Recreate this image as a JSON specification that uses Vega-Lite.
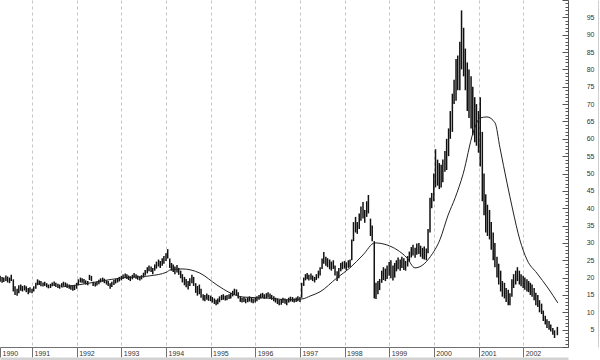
{
  "$schema": "https://vega.github.io/schema/vega-lite/v6.json",
  "width": 568,
  "height": 347,
  "autosize": "none",
  "padding": {"left": 0, "top": 0, "right": 32, "bottom": 13},
  "background": "white",
  "view": {"stroke": null},
  "config": {"font": "Liberation Sans"},
  "datasets": {
    "bars": [
      {"t":"1990-04-15","h":20.5,"l":18.8},{"t":"1990-05-01","h":20.2,"l":18.5},{"t":"1990-05-15","h":20.0,"l":18.7},{"t":"1990-06-01","h":20.6,"l":19.0},{"t":"1990-06-15","h":20.3,"l":18.6},{"t":"1990-07-01","h":20.0,"l":18.4},{"t":"1990-07-15","h":20.8,"l":19.0},{"t":"1990-08-01","h":19.5,"l":16.0},{"t":"1990-08-15","h":17.5,"l":15.0},{"t":"1990-09-01","h":16.8,"l":14.8},{"t":"1990-09-15","h":17.8,"l":15.5},{"t":"1990-10-01","h":18.0,"l":16.2},{"t":"1990-10-15","h":17.6,"l":16.0},{"t":"1990-11-01","h":17.8,"l":16.3},{"t":"1990-11-15","h":17.5,"l":15.8},{"t":"1990-12-01","h":17.0,"l":15.2},{"t":"1990-12-15","h":17.2,"l":15.6},
      {"t":"1991-01-01","h":16.8,"l":15.5},{"t":"1991-01-15","h":17.5,"l":16.0},{"t":"1991-02-01","h":18.5,"l":16.8},{"t":"1991-02-15","h":19.5,"l":17.8},{"t":"1991-03-01","h":19.2,"l":17.9},{"t":"1991-03-15","h":19.0,"l":17.5},{"t":"1991-04-01","h":18.6,"l":17.4},{"t":"1991-04-15","h":18.8,"l":17.6},{"t":"1991-05-01","h":18.4,"l":17.2},{"t":"1991-05-15","h":18.0,"l":16.9},{"t":"1991-06-01","h":18.2,"l":17.0},{"t":"1991-06-15","h":18.6,"l":17.5},{"t":"1991-07-01","h":18.9,"l":17.6},{"t":"1991-07-15","h":18.5,"l":17.3},{"t":"1991-08-01","h":18.2,"l":17.0},{"t":"1991-08-15","h":18.0,"l":16.8},{"t":"1991-09-01","h":18.4,"l":17.2},{"t":"1991-09-15","h":18.8,"l":17.6},{"t":"1991-10-01","h":18.6,"l":17.5},{"t":"1991-10-15","h":18.3,"l":17.0},{"t":"1991-11-01","h":18.0,"l":16.8},{"t":"1991-11-15","h":17.8,"l":16.5},{"t":"1991-12-01","h":17.6,"l":16.2},{"t":"1991-12-15","h":17.9,"l":16.4},
      {"t":"1992-01-01","h":18.5,"l":16.8},{"t":"1992-01-15","h":19.5,"l":17.8},{"t":"1992-02-01","h":20.0,"l":18.6},{"t":"1992-02-15","h":19.8,"l":18.5},{"t":"1992-03-01","h":19.6,"l":18.3},{"t":"1992-03-15","h":19.2,"l":18.0},{"t":"1992-04-01","h":19.0,"l":17.8},{"t":"1992-04-15","h":20.8,"l":19.3},{"t":"1992-05-01","h":20.5,"l":19.0},{"t":"1992-05-15","h":18.8,"l":17.6},{"t":"1992-06-01","h":18.6,"l":17.4},{"t":"1992-06-15","h":18.9,"l":17.7},{"t":"1992-07-01","h":19.4,"l":18.1},{"t":"1992-07-15","h":19.8,"l":18.6},{"t":"1992-08-01","h":20.0,"l":18.8},{"t":"1992-08-15","h":19.7,"l":18.4},{"t":"1992-09-01","h":19.2,"l":18.0},{"t":"1992-09-15","h":19.0,"l":17.6},{"t":"1992-10-01","h":18.4,"l":16.8},{"t":"1992-10-15","h":18.8,"l":17.3},{"t":"1992-11-01","h":19.3,"l":17.9},{"t":"1992-11-15","h":19.6,"l":18.3},{"t":"1992-12-01","h":19.9,"l":18.6},{"t":"1992-12-15","h":20.2,"l":18.9},
      {"t":"1993-01-01","h":20.5,"l":19.2},{"t":"1993-01-15","h":20.9,"l":19.6},{"t":"1993-02-01","h":21.2,"l":19.9},{"t":"1993-02-15","h":21.0,"l":19.6},{"t":"1993-03-01","h":20.6,"l":19.3},{"t":"1993-03-15","h":20.4,"l":19.0},{"t":"1993-04-01","h":20.8,"l":19.5},{"t":"1993-04-15","h":21.3,"l":20.0},{"t":"1993-05-01","h":21.0,"l":19.7},{"t":"1993-05-15","h":20.6,"l":19.4},{"t":"1993-06-01","h":20.3,"l":19.2},{"t":"1993-06-15","h":20.7,"l":19.5},{"t":"1993-07-01","h":21.4,"l":20.0},{"t":"1993-07-15","h":22.2,"l":20.6},{"t":"1993-08-01","h":23.0,"l":21.2},{"t":"1993-08-15","h":23.5,"l":21.8},{"t":"1993-09-01","h":23.2,"l":21.6},{"t":"1993-09-15","h":22.8,"l":21.0},{"t":"1993-10-01","h":23.8,"l":22.0},{"t":"1993-10-15","h":24.6,"l":22.6},{"t":"1993-11-01","h":25.2,"l":23.2},{"t":"1993-11-15","h":24.8,"l":22.8},{"t":"1993-12-01","h":25.6,"l":23.4},{"t":"1993-12-15","h":26.2,"l":24.0},
      {"t":"1994-01-01","h":27.0,"l":24.8},{"t":"1994-01-15","h":28.2,"l":25.5},{"t":"1994-02-01","h":25.5,"l":22.8},{"t":"1994-02-15","h":24.2,"l":22.0},{"t":"1994-03-01","h":23.8,"l":21.6},{"t":"1994-03-15","h":23.2,"l":21.0},{"t":"1994-04-01","h":23.6,"l":21.5},{"t":"1994-04-15","h":22.8,"l":20.8},{"t":"1994-05-01","h":22.0,"l":19.8},{"t":"1994-05-15","h":21.0,"l":18.6},{"t":"1994-06-01","h":20.2,"l":17.8},{"t":"1994-06-15","h":19.6,"l":17.2},{"t":"1994-07-01","h":19.0,"l":16.6},{"t":"1994-07-15","h":19.8,"l":17.6},{"t":"1994-08-01","h":20.8,"l":18.4},{"t":"1994-08-15","h":20.2,"l":17.6},{"t":"1994-09-01","h":18.4,"l":15.6},{"t":"1994-09-15","h":17.6,"l":14.8},{"t":"1994-10-01","h":18.0,"l":15.2},{"t":"1994-10-15","h":16.8,"l":14.2},{"t":"1994-11-01","h":15.2,"l":13.4},{"t":"1994-11-15","h":15.0,"l":13.2},{"t":"1994-12-01","h":15.4,"l":13.6},{"t":"1994-12-15","h":15.0,"l":13.3},
      {"t":"1995-01-01","h":14.8,"l":13.2},{"t":"1995-01-15","h":14.4,"l":12.8},{"t":"1995-02-01","h":14.0,"l":12.4},{"t":"1995-02-15","h":13.6,"l":12.0},{"t":"1995-03-01","h":14.0,"l":12.3},{"t":"1995-03-15","h":14.6,"l":12.9},{"t":"1995-04-01","h":15.0,"l":13.5},{"t":"1995-04-15","h":15.2,"l":13.6},{"t":"1995-05-01","h":14.8,"l":13.4},{"t":"1995-05-15","h":15.0,"l":13.5},{"t":"1995-06-01","h":15.2,"l":13.8},{"t":"1995-06-15","h":15.6,"l":14.0},{"t":"1995-07-01","h":16.2,"l":14.6},{"t":"1995-07-15","h":16.8,"l":15.0},{"t":"1995-08-01","h":16.6,"l":14.8},{"t":"1995-08-15","h":15.8,"l":14.0},{"t":"1995-09-01","h":14.6,"l":13.0},{"t":"1995-09-15","h":14.2,"l":12.8},{"t":"1995-10-01","h":14.4,"l":13.0},{"t":"1995-10-15","h":14.0,"l":12.6},{"t":"1995-11-01","h":14.3,"l":12.9},{"t":"1995-11-15","h":14.6,"l":13.1},{"t":"1995-12-01","h":14.2,"l":12.8},{"t":"1995-12-15","h":14.0,"l":12.6},
      {"t":"1996-01-01","h":14.2,"l":12.8},{"t":"1996-01-15","h":14.6,"l":13.2},{"t":"1996-02-01","h":15.0,"l":13.6},{"t":"1996-02-15","h":15.4,"l":14.0},{"t":"1996-03-01","h":15.6,"l":14.2},{"t":"1996-03-15","h":15.2,"l":13.9},{"t":"1996-04-01","h":15.5,"l":14.0},{"t":"1996-04-15","h":15.8,"l":14.3},{"t":"1996-05-01","h":15.4,"l":14.0},{"t":"1996-05-15","h":15.0,"l":13.6},{"t":"1996-06-01","h":14.6,"l":13.2},{"t":"1996-06-15","h":14.2,"l":12.8},{"t":"1996-07-01","h":14.0,"l":12.4},{"t":"1996-07-15","h":13.6,"l":12.0},{"t":"1996-08-01","h":13.8,"l":12.2},{"t":"1996-08-15","h":14.2,"l":12.7},{"t":"1996-09-01","h":14.0,"l":12.5},{"t":"1996-09-15","h":13.6,"l":12.0},{"t":"1996-10-01","h":14.2,"l":12.8},{"t":"1996-10-15","h":14.5,"l":13.1},{"t":"1996-11-01","h":14.4,"l":13.0},{"t":"1996-11-15","h":14.0,"l":12.8},{"t":"1996-12-01","h":14.3,"l":13.0},{"t":"1996-12-15","h":14.6,"l":13.2},
      {"t":"1997-01-01","h":14.4,"l":13.0},{"t":"1997-01-15","h":18.5,"l":14.2},{"t":"1997-02-01","h":20.0,"l":17.6},{"t":"1997-02-15","h":21.0,"l":19.2},{"t":"1997-03-01","h":21.3,"l":19.5},{"t":"1997-03-15","h":20.8,"l":19.2},{"t":"1997-04-01","h":21.2,"l":19.4},{"t":"1997-04-15","h":20.6,"l":19.0},{"t":"1997-05-01","h":20.2,"l":18.6},{"t":"1997-05-15","h":21.0,"l":19.3},{"t":"1997-06-01","h":22.0,"l":19.8},{"t":"1997-06-15","h":23.0,"l":20.6},{"t":"1997-07-01","h":25.5,"l":22.5},{"t":"1997-07-15","h":27.4,"l":24.0},{"t":"1997-08-01","h":26.0,"l":23.4},{"t":"1997-08-15","h":25.6,"l":23.0},{"t":"1997-09-01","h":25.2,"l":22.4},{"t":"1997-09-15","h":24.6,"l":22.0},{"t":"1997-10-01","h":25.0,"l":22.5},{"t":"1997-10-15","h":23.5,"l":20.6},{"t":"1997-11-01","h":21.8,"l":19.0},{"t":"1997-11-15","h":22.8,"l":19.8},{"t":"1997-12-01","h":24.2,"l":21.8},{"t":"1997-12-15","h":24.6,"l":22.4},
      {"t":"1998-01-01","h":24.8,"l":22.6},{"t":"1998-01-15","h":24.4,"l":22.2},{"t":"1998-02-01","h":25.0,"l":22.8},{"t":"1998-02-15","h":25.2,"l":23.0},{"t":"1998-03-01","h":31.0,"l":25.0},{"t":"1998-03-15","h":36.0,"l":30.5},{"t":"1998-04-01","h":37.5,"l":33.0},{"t":"1998-04-15","h":36.0,"l":32.6},{"t":"1998-05-01","h":38.5,"l":34.0},{"t":"1998-05-15","h":40.5,"l":36.4},{"t":"1998-06-01","h":41.8,"l":37.0},{"t":"1998-06-15","h":39.5,"l":35.8},{"t":"1998-07-01","h":42.0,"l":37.5},{"t":"1998-07-15","h":43.8,"l":38.5},{"t":"1998-08-01","h":37.0,"l":32.0},{"t":"1998-08-15","h":35.0,"l":30.5},{"t":"1998-09-01","h":30.5,"l":14.0},{"t":"1998-09-15","h":18.5,"l":13.8},{"t":"1998-10-01","h":19.0,"l":15.2},{"t":"1998-10-15","h":19.6,"l":16.4},{"t":"1998-11-01","h":22.0,"l":18.5},{"t":"1998-11-15","h":23.0,"l":19.3},{"t":"1998-12-01","h":22.6,"l":19.0},{"t":"1998-12-15","h":23.5,"l":19.6},
      {"t":"1999-01-01","h":24.5,"l":20.5},{"t":"1999-01-15","h":25.0,"l":19.8},{"t":"1999-02-01","h":23.5,"l":19.2},{"t":"1999-02-15","h":24.2,"l":20.0},{"t":"1999-03-01","h":25.0,"l":21.8},{"t":"1999-03-15","h":25.8,"l":22.4},{"t":"1999-04-01","h":25.2,"l":22.0},{"t":"1999-04-15","h":26.0,"l":22.8},{"t":"1999-05-01","h":25.6,"l":22.2},{"t":"1999-05-15","h":24.8,"l":22.0},{"t":"1999-06-01","h":26.2,"l":23.2},{"t":"1999-06-15","h":27.5,"l":24.6},{"t":"1999-07-01","h":28.8,"l":25.8},{"t":"1999-07-15","h":29.5,"l":26.4},{"t":"1999-08-01","h":28.6,"l":25.7},{"t":"1999-08-15","h":29.8,"l":26.6},{"t":"1999-09-01","h":30.0,"l":26.8},{"t":"1999-09-15","h":29.2,"l":26.0},{"t":"1999-10-01","h":28.6,"l":25.4},{"t":"1999-10-15","h":29.0,"l":25.2},{"t":"1999-11-01","h":28.4,"l":25.0},{"t":"1999-11-15","h":34.0,"l":27.0},{"t":"1999-12-01","h":43.0,"l":33.0},{"t":"1999-12-15","h":44.4,"l":40.0},
      {"t":"2000-01-01","h":50.0,"l":42.0},{"t":"2000-01-15","h":57.0,"l":46.0},{"t":"2000-02-01","h":54.0,"l":46.5},{"t":"2000-02-15","h":53.0,"l":45.5},{"t":"2000-03-01","h":52.5,"l":46.0},{"t":"2000-03-15","h":54.0,"l":47.5},{"t":"2000-04-01","h":56.5,"l":50.5},{"t":"2000-04-15","h":60.0,"l":51.0},{"t":"2000-05-01","h":63.0,"l":55.0},{"t":"2000-05-15","h":68.0,"l":60.0},{"t":"2000-06-01","h":73.0,"l":62.0},{"t":"2000-06-15","h":77.0,"l":70.0},{"t":"2000-07-01","h":83.0,"l":71.0},{"t":"2000-07-15","h":84.0,"l":74.0},{"t":"2000-08-01","h":88.0,"l":74.0},{"t":"2000-08-15","h":97.0,"l":80.0},{"t":"2000-09-01","h":92.0,"l":78.0},{"t":"2000-09-15","h":86.0,"l":74.0},{"t":"2000-10-01","h":82.0,"l":68.0},{"t":"2000-10-15","h":80.0,"l":66.0},{"t":"2000-11-01","h":78.0,"l":63.0},{"t":"2000-11-15","h":75.0,"l":61.0},{"t":"2000-12-01","h":72.0,"l":59.0},{"t":"2000-12-15","h":70.0,"l":58.0},
      {"t":"2001-01-01","h":68.0,"l":56.0},{"t":"2001-01-15","h":72.0,"l":52.0},{"t":"2001-02-01","h":62.0,"l":42.0},{"t":"2001-02-15","h":50.0,"l":38.0},{"t":"2001-03-01","h":44.0,"l":33.0},{"t":"2001-03-15","h":41.0,"l":32.0},{"t":"2001-04-01","h":39.5,"l":31.0},{"t":"2001-04-15","h":36.0,"l":28.0},{"t":"2001-05-01","h":33.0,"l":25.0},{"t":"2001-05-15","h":30.0,"l":23.0},{"t":"2001-06-01","h":26.0,"l":20.0},{"t":"2001-06-15","h":24.0,"l":18.0},{"t":"2001-07-01","h":22.0,"l":16.0},{"t":"2001-07-15","h":19.0,"l":14.5},{"t":"2001-08-01","h":18.5,"l":14.0},{"t":"2001-08-15","h":17.0,"l":13.0},{"t":"2001-09-01","h":16.5,"l":12.0},{"t":"2001-09-15","h":15.5,"l":12.0},{"t":"2001-10-01","h":19.5,"l":14.5},{"t":"2001-10-15","h":21.0,"l":17.0},{"t":"2001-11-01","h":22.0,"l":18.0},{"t":"2001-11-15","h":23.0,"l":19.0},{"t":"2001-12-01","h":22.0,"l":18.0},{"t":"2001-12-15","h":21.0,"l":17.5},
      {"t":"2002-01-01","h":20.5,"l":17.0},{"t":"2002-01-15","h":20.0,"l":16.5},{"t":"2002-02-01","h":19.5,"l":16.0},{"t":"2002-02-15","h":19.0,"l":15.8},{"t":"2002-03-01","h":18.5,"l":15.0},{"t":"2002-03-15","h":18.0,"l":14.5},{"t":"2002-04-01","h":17.0,"l":13.5},{"t":"2002-04-15","h":15.6,"l":12.0},{"t":"2002-05-01","h":15.0,"l":11.5},{"t":"2002-05-15","h":13.5,"l":10.0},{"t":"2002-06-01","h":12.5,"l":9.5},{"t":"2002-06-15","h":10.5,"l":7.5},{"t":"2002-07-01","h":9.0,"l":6.5},{"t":"2002-07-15","h":8.0,"l":5.5},{"t":"2002-08-01","h":7.5,"l":5.0},{"t":"2002-08-15","h":6.5,"l":4.5},{"t":"2002-09-01","h":5.5,"l":3.5},{"t":"2002-09-15","h":4.8,"l":2.6},{"t":"2002-10-08","h":5.8,"l":3.4}
    ],
    "ma": [
      {"t":"1991-09-01","v":17.3},{"t":"1992-01-12","v":17.9},{"t":"1993-01-08","v":19.9},{"t":"1993-08-20","v":20.5},{"t":"1994-01-08","v":21.6},{"t":"1994-02-03","v":22.2},{"t":"1994-05-12","v":22.5},{"t":"1994-10-05","v":21.3},{"t":"1995-02-21","v":17.9},{"t":"1995-06-10","v":15.6},{"t":"1995-09-24","v":14.4},{"t":"1996-04-05","v":14.1},{"t":"1996-10-12","v":13.6},{"t":"1997-01-26","v":13.9},{"t":"1997-03-26","v":14.7},{"t":"1997-06-14","v":15.9},{"t":"1997-10-30","v":19.9},{"t":"1998-02-14","v":22.8},{"t":"1998-05-31","v":26.5},{"t":"1998-09-06","v":30.0},{"t":"1998-12-14","v":29.4},{"t":"1999-03-07","v":28.0},{"t":"1999-05-26","v":25.7},{"t":"1999-07-31","v":22.8},{"t":"1999-10-05","v":23.7},{"t":"1999-12-03","v":26.0},{"t":"2000-02-21","v":31.0},{"t":"2000-04-27","v":38.0},{"t":"2000-06-24","v":43.0},{"t":"2000-08-29","v":50.0},{"t":"2000-11-17","v":61.7},{"t":"2001-01-15","v":66.0},{"t":"2001-03-11","v":66.3},{"t":"2001-05-16","v":64.6},{"t":"2001-06-25","v":57.5},{"t":"2001-08-22","v":47.3},{"t":"2001-10-08","v":39.5},{"t":"2001-12-05","v":30.9},{"t":"2002-02-02","v":25.1},{"t":"2002-04-23","v":21.3},{"t":"2002-07-23","v":17.0},{"t":"2002-10-12","v":12.7}
    ]
  },
  "resolve": {"axis": {"x": "independent", "y": "independent"}},
  "layer": [
    {
      "data": {"name": "bars"},
      "mark": {"type": "rule", "color": "#111111", "strokeWidth": 1.5},
      "encoding": {
        "x": {
          "field": "t", "type": "temporal",
          "scale": {"domain": [{"year": 1990, "month": 4, "date": 14}, {"year": 2003, "month": 1, "date": 3}]},
          "axis": {
            "title": null,
            "orient": "bottom",
            "values": [{"year": 1990, "month": 4, "date": 14}, {"year": 1991}, {"year": 1992}, {"year": 1993}, {"year": 1994}, {"year": 1995}, {"year": 1996}, {"year": 1997}, {"year": 1998}, {"year": 1999}, {"year": 2000}, {"year": 2001}, {"year": 2002}],
            "format": "%Y",
            "grid": true,
            "gridDash": [3, 3],
            "gridColor": "#c4c4c4",
            "gridOpacity": {"condition": {"test": "year(datum.value) == 1990", "value": 0}, "value": 1},
            "domain": true,
            "domainColor": "#707070",
            "ticks": true,
            "tickSize": 10,
            "tickColor": "#707070",
            "labelAlign": "left",
            "labelBaseline": "middle",
            "labelOffset": 2,
            "labelPadding": -4,
            "labelFontSize": 7,
            "labelColor": "#333333",
            "labelFlush": false,
            "labelOverlap": false
          }
        },
        "y": {
          "field": "l", "type": "quantitative",
          "scale": {"domain": [0, 100], "nice": false, "zero": false},
          "axis": {
            "title": null,
            "orient": "right",
            "tickCount": 100,
            "grid": false,
            "domainColor": "#555555",
            "tickColor": "#555555",
            "tickSize": {"condition": {"test": "datum.value % 5 == 0", "value": -6}, "value": -3},
            "labelExpr": "datum.value % 5 == 0 && datum.value > 0 && datum.value < 100 ? datum.label : ''",
            "labelAlign": "right",
            "labelBaseline": "middle",
            "labelPadding": 32,
            "labelFontSize": 7,
            "labelColor": "#333333",
            "labelFlush": false,
            "labelOverlap": false
          }
        },
        "y2": {"field": "h"}
      }
    },
    {
      "data": {"name": "ma"},
      "mark": {"type": "line", "color": "#222222", "strokeWidth": 1, "interpolate": "monotone"},
      "encoding": {
        "x": {
          "field": "t", "type": "temporal",
          "axis": {"title": null, "orient": "bottom", "offset": 13, "domain": true, "domainColor": "#d2d2d2", "domainWidth": 6, "ticks": false, "labels": false, "grid": false}
        },
        "y": {
          "field": "v", "type": "quantitative",
          "axis": {"title": null, "orient": "right", "offset": 30, "domain": true, "domainColor": "#cfcfcf", "ticks": false, "labels": false, "grid": false}
        }
      }
    }
  ]
}
